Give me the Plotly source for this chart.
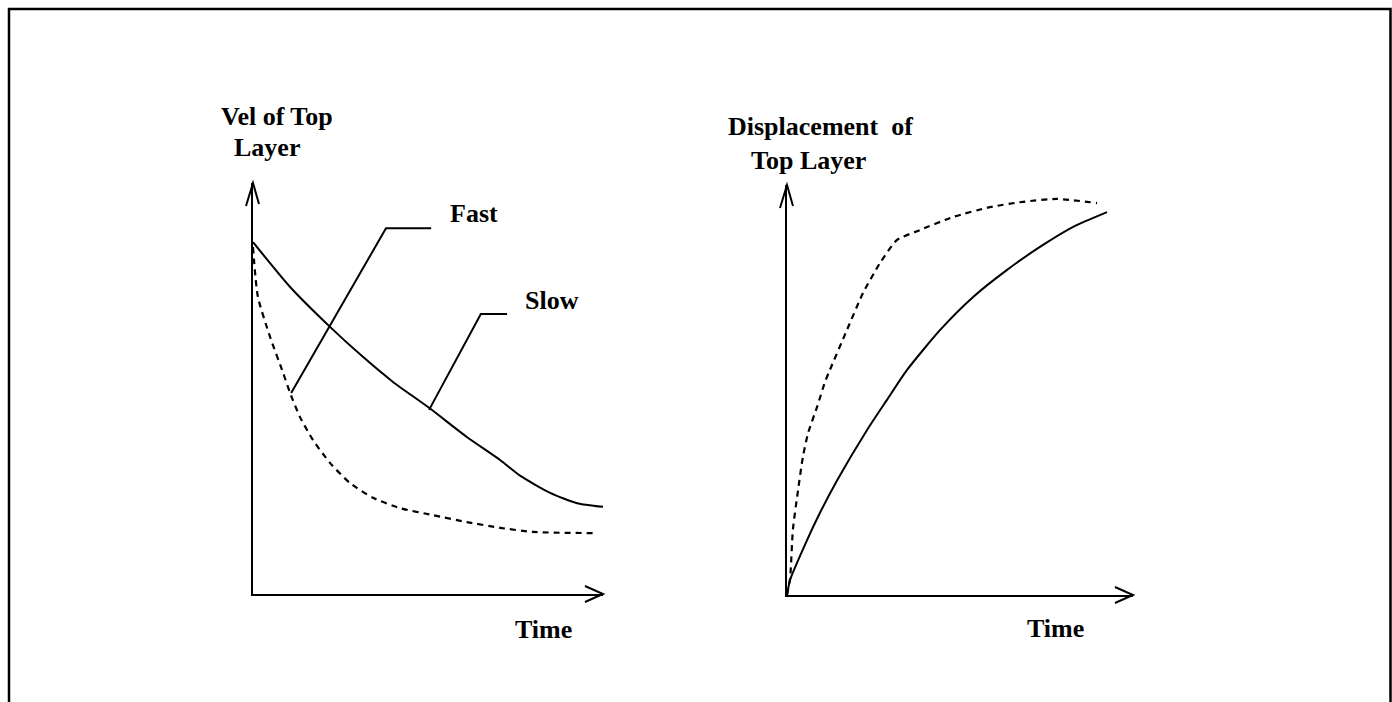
import plotly.graph_objects as go

W, H = 1392, 702

# velocity of top layer (left sketch)
vel_slow_t = [0, 1.06, 2.2, 3.14, 4.0, 5.03, 6.11, 7.06, 7.63, 8.49, 9.26, 10.0]
vel_slow = [8.56, 7.47, 6.5, 5.77, 5.16, 4.53, 3.82, 3.26, 2.88, 2.46, 2.21, 2.12]
vel_fast_t = [0, 0.14, 0.49, 0.86, 1.06, 1.34, 1.71, 2.2, 2.77, 3.43, 4.2, 5.14, 6.11, 7.06, 8.0, 9.83]
vel_fast = [8.44, 7.23, 6.25, 5.38, 4.89, 4.31, 3.75, 3.19, 2.7, 2.34, 2.09, 1.92, 1.75, 1.61, 1.51, 1.48]

# leader lines for the labels
fast_leader_x = [1.09, 3.8, 5.09]
fast_leader_y = [4.89, 8.9, 8.9]
slow_leader_x = [5.03, 6.51, 7.26]
slow_leader_y = [4.48, 6.81, 6.81]

# displacement of top layer (right sketch)
disp_slow_t = [0, 0.09, 0.58, 0.95, 1.45, 2.31, 2.89, 3.47, 4.42, 5.38, 6.36, 7.31, 8.27, 9.25]
disp_slow = [0, 0.37, 1.34, 2.0, 2.8, 4.02, 4.76, 5.49, 6.46, 7.27, 7.93, 8.49, 8.98, 9.34]
disp_fast_t = [0, 0.09, 0.17, 0.32, 0.46, 0.61, 0.87, 1.1, 1.24, 1.73, 2.2, 2.69, 3.18,
               3.84, 4.8, 5.87, 6.82, 7.8, 8.96]
disp_fast = [0, 0.41, 1.59, 2.56, 3.37, 3.95, 4.59, 5.2, 5.49, 6.46, 7.37, 8.1, 8.66,
             8.9, 9.22, 9.46, 9.59, 9.66, 9.56]

FONT = dict(family="Liberation Serif, Times New Roman, serif", size=26, color="black")
solid = dict(color="black", width=2, shape="spline", smoothing=0.6)
dashed = dict(color="black", width=2.2, dash="6px,5px", shape="spline", smoothing=0.6)
straight = dict(color="black", width=2)


# positions measured on the reference page, turned into paper fractions
def px(x):
    return x / W


def py(y):
    return (H - y) / H


fig = go.Figure()

fig.add_trace(go.Scatter(x=vel_slow_t, y=vel_slow, mode="lines", line=solid, xaxis="x", yaxis="y"))
fig.add_trace(go.Scatter(x=vel_fast_t, y=vel_fast, mode="lines", line=dashed, xaxis="x", yaxis="y"))
fig.add_trace(go.Scatter(x=fast_leader_x, y=fast_leader_y, mode="lines", line=straight,
                         xaxis="x", yaxis="y"))
fig.add_trace(go.Scatter(x=slow_leader_x, y=slow_leader_y, mode="lines", line=straight,
                         xaxis="x", yaxis="y"))

fig.add_trace(go.Scatter(x=disp_slow_t, y=disp_slow, mode="lines", line=solid, xaxis="x2", yaxis="y2"))
fig.add_trace(go.Scatter(x=disp_fast_t, y=disp_fast, mode="lines", line=dashed, xaxis="x2", yaxis="y2"))

ax = dict(range=[0, 10], autorange=False, showline=True, linewidth=2, linecolor="black",
          showgrid=False, zeroline=False, showticklabels=False, ticks="", fixedrange=True)

panels = [(253, 603, 594, 183), (787, 1133, 595, 185)]  # left, right, bottom, top

fig.update_layout(
    width=W, height=H,
    margin=dict(l=0, r=0, t=0, b=0),
    paper_bgcolor="white", plot_bgcolor="white",
    showlegend=False,
    xaxis=dict(ax, domain=[px(253), px(603)], anchor="y"),
    yaxis=dict(ax, domain=[py(594), py(183)], anchor="x"),
    xaxis2=dict(ax, domain=[px(787), px(1133)], anchor="y2"),
    yaxis2=dict(ax, domain=[py(595), py(185)], anchor="x2"),
)

# open arrow heads at the axis ends
arrow = dict(type="path", xref="paper", yref="paper", xsizemode="pixel", ysizemode="pixel",
             line=dict(color="black", width=2))
for l, r, b, t in panels:
    fig.add_shape(arrow, xanchor=px(r), yanchor=py(b), path="M-18,8 L0,0 L-18,-8")
    fig.add_shape(arrow, xanchor=px(l), yanchor=py(t), path="M-7,-23 L0,0 L6,-21")

# page frame
fig.add_shape(type="rect", xref="paper", yref="paper",
              x0=px(9), x1=px(1390.5), y0=py(760), y1=py(9),
              line=dict(color="black", width=2.5))

labels = [
    ("Vel of Top", 277, 116),
    ("Layer", 267, 147),
    ("Time", 543, 629),
    ("Displacement  of", 820, 127),
    ("Top Layer", 808, 160),
    ("Time", 1055, 628),
]
for txt, x, y in labels:
    fig.add_annotation(x=px(x), y=py(y), xref="paper", yref="paper", text="<b>" + txt + "</b>",
                       showarrow=False, font=FONT, xanchor="center", yanchor="middle", borderpad=0)

fig.add_annotation(x=6.31, y=9.25, xref="x", yref="y", text="<b>Fast</b>",
                   showarrow=False, font=FONT)
fig.add_annotation(x=8.54, y=7.13, xref="x", yref="y", text="<b>Slow</b>",
                   showarrow=False, font=FONT)

# drop the default page margin so the figure sits at the window corner
fig.write_html("out.html", config={"displayModeBar": False},
               post_script="document.body.style.margin='0';document.body.style.overflow='hidden';")
